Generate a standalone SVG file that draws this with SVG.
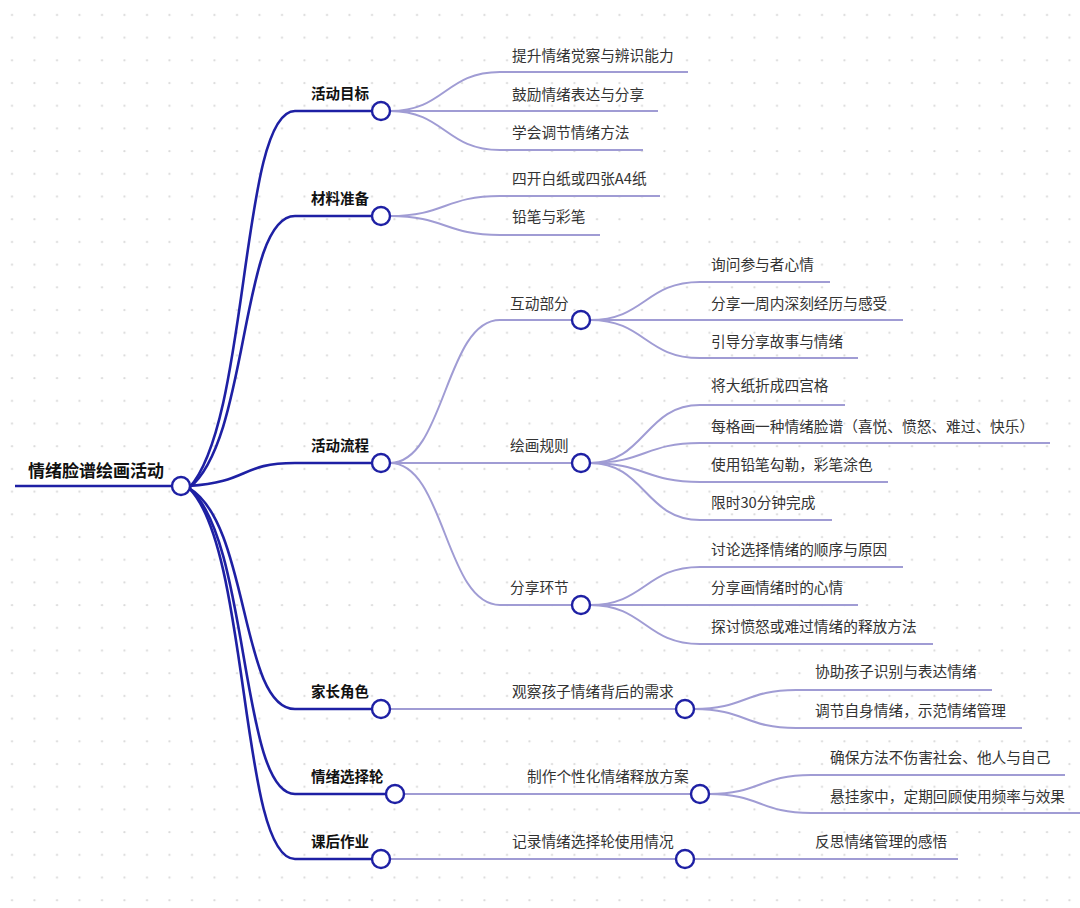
<svg xmlns="http://www.w3.org/2000/svg" width="1080" height="908" viewBox="0 0 1080 908">
<defs>
<pattern id="dots" x="0" y="0" width="22.5" height="22.7" patternUnits="userSpaceOnUse"><circle cx="12" cy="15" r="1.1" fill="#d9d9d9"/></pattern>
<style>
.t{font-family:"Noto Sans CJK SC","Noto Sans",sans-serif;font-size:14.7px;fill:#333}
.b{font-family:"Noto Sans CJK SC","Noto Sans",sans-serif;font-size:14.5px;font-weight:bold;fill:#111}
.r{font-family:"Noto Sans CJK SC","Noto Sans",sans-serif;font-size:17px;font-weight:bold;fill:#111}
.d{fill:none;stroke:#1e20a4;stroke-width:2.6}
.l{fill:none;stroke:#a09cd4;stroke-width:2}
.c{fill:#fff;stroke:#1e20a4;stroke-width:2.4}
</style>
</defs>
<rect width="1080" height="908" fill="#fff"/>
<rect width="1080" height="908" fill="url(#dots)"/>
<g id="connectors">
<path class="d" d="M15,486 H172"/>
<path class="d" d="M189,488 C250,422 240,111 295,111 H372"/>
<path class="d" d="M189,488 C250,440 240,216 295,216 H372"/>
<path class="d" d="M189,486 C250,482 240,463 295,463 H372"/>
<path class="d" d="M189,488 C250,524 240,709 295,709 H372"/>
<path class="d" d="M189,488 C250,539 240,794 295,794 H386"/>
<path class="d" d="M189,488 C250,549 240,859 295,859 H372"/>
<path class="l" d="M390,111 C445,111 445,72 500,72 H688"/>
<path class="l" d="M390,111 H658"/>
<path class="l" d="M390,111 C445,111 445,150 500,150 H643"/>
<path class="l" d="M390,216 C445,216 445,196 500,196 H660"/>
<path class="l" d="M390,216 C445,216 445,235 500,235 H600"/>
<path class="l" d="M390,463 C445,463 445,320 500,320 H572"/>
<path class="l" d="M390,463 H572"/>
<path class="l" d="M390,463 C445,463 445,605 500,605 H572"/>
<path class="l" d="M590,320 C645,320 645,282 700,282 H830"/>
<path class="l" d="M590,320 H903"/>
<path class="l" d="M590,320 C645,320 645,358 700,358 H858"/>
<path class="l" d="M590,463 C645,463 645,405 700,405 H845"/>
<path class="l" d="M590,463 C645,463 645,443 700,443 H1050"/>
<path class="l" d="M590,463 C645,463 645,482 700,482 H888"/>
<path class="l" d="M590,463 C645,463 645,520 700,520 H832"/>
<path class="l" d="M590,605 C645,605 645,567 700,567 H903"/>
<path class="l" d="M590,605 H858"/>
<path class="l" d="M590,605 C645,605 645,644 700,644 H933"/>
<path class="l" d="M390,709 H676"/>
<path class="l" d="M694,709 C745,709 745,690 796,690 H992"/>
<path class="l" d="M694,709 C745,709 745,728 796,728 H1022"/>
<path class="l" d="M404,794 H691"/>
<path class="l" d="M709,794 C760,794 760,775 811,775 H1065"/>
<path class="l" d="M709,794 C760,794 760,813 811,813 H1080"/>
<path class="l" d="M390,859 H676"/>
<path class="l" d="M694,859 H958"/>
</g>
<g id="root"><text class="r" x="28" y="477">情绪脸谱绘画活动</text><circle class="c" cx="181" cy="486" r="9"/></g>
<g id="n-goal"><text class="b" x="311" y="99">活动目标</text><circle class="c" cx="381" cy="111" r="9"/></g>
<g id="n-goal-1"><text class="t" x="512" y="61">提升情绪觉察与辨识能力</text></g>
<g id="n-goal-2"><text class="t" x="512" y="100">鼓励情绪表达与分享</text></g>
<g id="n-goal-3"><text class="t" x="512" y="138">学会调节情绪方法</text></g>
<g id="n-mat"><text class="b" x="311" y="204">材料准备</text><circle class="c" cx="381" cy="216" r="9"/></g>
<g id="n-mat-1"><text class="t" x="512" y="184">四开白纸或四张A4纸</text></g>
<g id="n-mat-2"><text class="t" x="512" y="222">铅笔与彩笔</text></g>
<g id="n-flow"><text class="b" x="311" y="451">活动流程</text><circle class="c" cx="381" cy="463" r="9"/></g>
<g id="n-inter"><text class="t" x="510" y="309">互动部分</text><circle class="c" cx="581" cy="320" r="9"/></g>
<g id="n-inter-1"><text class="t" x="711" y="270">询问参与者心情</text></g>
<g id="n-inter-2"><text class="t" x="711" y="309">分享一周内深刻经历与感受</text></g>
<g id="n-inter-3"><text class="t" x="711" y="347">引导分享故事与情绪</text></g>
<g id="n-draw"><text class="t" x="510" y="451">绘画规则</text><circle class="c" cx="581" cy="463" r="9"/></g>
<g id="n-draw-1"><text class="t" x="711" y="391">将大纸折成四宫格</text></g>
<g id="n-draw-2"><text class="t" x="711" y="432">每格画一种情绪脸谱（喜悦、愤怒、难过、快乐）</text></g>
<g id="n-draw-3"><text class="t" x="711" y="470">使用铅笔勾勒，彩笔涂色</text></g>
<g id="n-draw-4"><text class="t" x="711" y="508">限时30分钟完成</text></g>
<g id="n-share"><text class="t" x="510" y="593">分享环节</text><circle class="c" cx="581" cy="605" r="9"/></g>
<g id="n-share-1"><text class="t" x="711" y="555">讨论选择情绪的顺序与原因</text></g>
<g id="n-share-2"><text class="t" x="711" y="593">分享画情绪时的心情</text></g>
<g id="n-share-3"><text class="t" x="711" y="632">探讨愤怒或难过情绪的释放方法</text></g>
<g id="n-parent"><text class="b" x="311" y="697">家长角色</text><circle class="c" cx="381" cy="709" r="9"/></g>
<g id="n-parent-a"><text class="t" x="512" y="697">观察孩子情绪背后的需求</text><circle class="c" cx="685" cy="709" r="9"/></g>
<g id="n-parent-a1"><text class="t" x="815" y="677">协助孩子识别与表达情绪</text></g>
<g id="n-parent-a2"><text class="t" x="815" y="716">调节自身情绪，示范情绪管理</text></g>
<g id="n-wheel"><text class="b" x="311" y="782">情绪选择轮</text><circle class="c" cx="395" cy="794" r="9"/></g>
<g id="n-wheel-a"><text class="t" x="527" y="782">制作个性化情绪释放方案</text><circle class="c" cx="700" cy="794" r="9"/></g>
<g id="n-wheel-a1"><text class="t" x="830" y="763">确保方法不伤害社会、他人与自己</text></g>
<g id="n-wheel-a2"><text class="t" x="830" y="802">悬挂家中，定期回顾使用频率与效果</text></g>
<g id="n-hw"><text class="b" x="311" y="847">课后作业</text><circle class="c" cx="381" cy="859" r="9"/></g>
<g id="n-hw-a"><text class="t" x="512" y="847">记录情绪选择轮使用情况</text><circle class="c" cx="685" cy="859" r="9"/></g>
<g id="n-hw-a1"><text class="t" x="815" y="847">反思情绪管理的感悟</text></g>
</svg>
